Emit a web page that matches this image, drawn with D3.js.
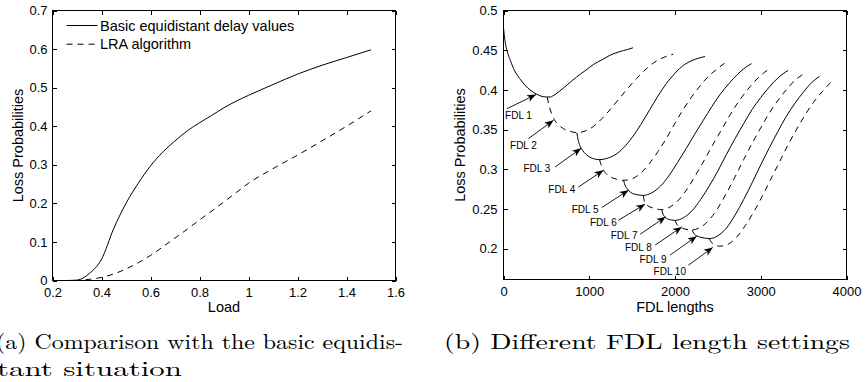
<!DOCTYPE html>
<html>
<head>
<meta charset="utf-8">
<script src="https://cdn.jsdelivr.net/npm/d3@7"></script>
<style>
  body { margin: 0; background: #fff; }
  svg { display: block; }
  .axis text { font-family: "Liberation Sans", Arial, Helvetica, sans-serif; font-size: 13px; fill: #000; }
  .axis line { stroke: #000; }
  .axis path { display: none; }
  .label { font-family: "Liberation Sans", Arial, Helvetica, sans-serif; font-size: 14.5px; fill: #000; }
  .fdl-label { font-family: "Liberation Sans", Arial, Helvetica, sans-serif; font-size: 10px; fill: #000; }
  .caption { font-family: "Latin Modern Roman", "Liberation Serif", "Times New Roman", serif; font-size: 21px; fill: #000; }
</style>
</head>
<body>
<svg id="chart" width="865" height="382"></svg>
<script>
// ---- (a) loss probability vs load
const loadX = [0.2, 0.25, 0.3, 0.35, 0.4, 0.45, 0.5, 0.55, 0.6, 0.65, 0.7, 0.75, 0.8, 0.85, 0.9, 0.95, 1.0, 1.1, 1.2, 1.3, 1.4, 1.5];
const basicLoss = [0, 0, 0.001, 0.018, 0.055, 0.135, 0.2, 0.252, 0.297, 0.333, 0.362, 0.388, 0.409, 0.428, 0.448, 0.465, 0.48, 0.508, 0.535, 0.558, 0.578, 0.598];
const lraLoss = [0, 0, 0, 0.003, 0.008, 0.017, 0.03, 0.046, 0.065, 0.087, 0.11, 0.133, 0.157, 0.18, 0.204, 0.228, 0.252, 0.29, 0.325, 0.362, 0.4, 0.44];
const loadTicks = [0.2, 0.4, 0.6, 0.8, 1.0, 1.2, 1.4, 1.6];
const lossTicksA = [0, 0.1, 0.2, 0.3, 0.4, 0.5, 0.6, 0.7];
const legendNames = ['Basic equidistant delay values', 'LRA algorithm'];

// ---- (b) loss probability vs FDL length, one curve per FDL
const fdl1 = [[0, 0.478], [20, 0.46], [45, 0.448], [80, 0.437], [130, 0.424], [190, 0.414], [250, 0.406], [320, 0.399], [380, 0.395], [440, 0.392], [500, 0.391], [550, 0.391], [570, 0.392], [650, 0.398], [750, 0.407], [850, 0.416], [950, 0.424], [1050, 0.432], [1150, 0.438], [1250, 0.444], [1350, 0.448], [1450, 0.451], [1510, 0.453]];
const fdl2 = [[510, 0.391], [530, 0.381], [555, 0.372], [590, 0.363], [640, 0.356], [700, 0.351], [770, 0.348], [855, 0.346], [950, 0.348], [1050, 0.354], [1150, 0.364], [1250, 0.376], [1350, 0.389], [1450, 0.402], [1550, 0.414], [1650, 0.425], [1750, 0.434], [1850, 0.44], [1980, 0.445]];
const fdl3 = [[855, 0.346], [870, 0.337], [890, 0.33], [920, 0.324], [960, 0.319], [1010, 0.315], [1060, 0.313], [1120, 0.312], [1200, 0.3135], [1300, 0.318], [1400, 0.327], [1500, 0.34], [1600, 0.356], [1700, 0.374], [1800, 0.392], [1900, 0.408], [2000, 0.421], [2100, 0.431], [2200, 0.437], [2350, 0.442]];
const fdl4 = [[1120, 0.312], [1140, 0.305], [1165, 0.299], [1200, 0.294], [1250, 0.29], [1320, 0.2875], [1400, 0.286], [1500, 0.288], [1600, 0.295], [1700, 0.307], [1800, 0.322], [1900, 0.339], [2000, 0.358], [2100, 0.376], [2200, 0.392], [2300, 0.406], [2400, 0.418], [2500, 0.427], [2583, 0.434]];
const fdl5 = [[1400, 0.286], [1420, 0.279], [1445, 0.275], [1480, 0.271], [1530, 0.2685], [1580, 0.2675], [1630, 0.267], [1730, 0.2703], [1830, 0.2786], [1930, 0.2919], [2030, 0.3085], [2130, 0.3259], [2230, 0.3442], [2330, 0.3616], [2430, 0.379], [2530, 0.3948], [2630, 0.4081], [2730, 0.4197], [2830, 0.4289], [2893, 0.433]];
const fdl6 = [[1630, 0.267], [1645, 0.259], [1670, 0.255], [1720, 0.252], [1780, 0.25], [1845, 0.249], [1945, 0.2526], [2045, 0.2614], [2145, 0.2756], [2245, 0.2934], [2345, 0.312], [2445, 0.3316], [2545, 0.3502], [2645, 0.3689], [2745, 0.3858], [2845, 0.4], [2945, 0.4124], [3045, 0.4222], [3107, 0.4266]];
const fdl7 = [[1845, 0.249], [1860, 0.2435], [1885, 0.2395], [1920, 0.237], [1960, 0.236], [2000, 0.2355], [2100, 0.2389], [2200, 0.2478], [2300, 0.262], [2400, 0.279], [2500, 0.2978], [2600, 0.3186], [2700, 0.3385], [2800, 0.3573], [2900, 0.3753], [3000, 0.3904], [3100, 0.4036], [3200, 0.415], [3318, 0.4244]];
const fdl8 = [[2000, 0.2355], [2020, 0.231], [2050, 0.2275], [2090, 0.2255], [2140, 0.224], [2200, 0.2235], [2300, 0.227], [2400, 0.2363], [2500, 0.251], [2600, 0.2697], [2700, 0.2903], [2800, 0.3119], [2900, 0.3326], [3000, 0.3522], [3100, 0.3709], [3200, 0.3866], [3300, 0.4004], [3400, 0.4121], [3500, 0.42]];
const fdl9 = [[2200, 0.2235], [2220, 0.219], [2250, 0.2163], [2290, 0.2145], [2340, 0.2133], [2400, 0.2125], [2500, 0.2162], [2600, 0.2258], [2700, 0.2422], [2800, 0.2616], [2900, 0.283], [3000, 0.3055], [3100, 0.327], [3200, 0.3475], [3300, 0.3669], [3400, 0.3833], [3500, 0.3976], [3600, 0.4098], [3686, 0.417]];
const fdl10 = [[2400, 0.2125], [2420, 0.2085], [2450, 0.2055], [2485, 0.2037], [2520, 0.203], [2620, 0.2055], [2720, 0.2145], [2820, 0.229], [2920, 0.2465], [3020, 0.2665], [3120, 0.288], [3220, 0.3095], [3320, 0.331], [3420, 0.3505], [3520, 0.369], [3620, 0.385], [3720, 0.398], [3856, 0.414]];
const fdlCurves = [fdl1, fdl2, fdl3, fdl4, fdl5, fdl6, fdl7, fdl8, fdl9, fdl10];
const fdlNames = ['FDL 1', 'FDL 2', 'FDL 3', 'FDL 4', 'FDL 5', 'FDL 6', 'FDL 7', 'FDL 8', 'FDL 9', 'FDL 10'];
// arrow annotations, in data units
const arrowTipX = [379, 583, 905, 1165, 1457, 1651, 1892, 2079, 2253, 2440];
const arrowTipY = [0.394, 0.3616, 0.3263, 0.2986, 0.2735, 0.2559, 0.24, 0.2273, 0.2156, 0.2014];
const arrowTailX = [40, 291, 602, 874, 1147, 1340, 1593, 1768, 1942, 2156];
const arrowTailY = [0.3763, 0.3385, 0.3028, 0.2776, 0.2517, 0.2357, 0.218, 0.2043, 0.1917, 0.179];
const labelX = [175, 233, 389, 680, 952, 1165, 1406, 1573, 1744, 1939];
const labelY = [0.3672, 0.33, 0.3008, 0.2743, 0.2492, 0.2323, 0.2168, 0.2009, 0.1863, 0.1707];
const fdlTicks = [0, 1000, 2000, 3000, 4000];
const lossTicksB = [0.2, 0.25, 0.3, 0.35, 0.4, 0.45, 0.5];

const captionA = ['(a) Comparison with the basic equidis-', 'tant situation'];
const captionB = '(b) Different FDL length settings';

const TICK = 4;
const DASH = '6,5';

const svg = d3.select('#chart');
svg.append('rect').attr('width', 865).attr('height', 382).attr('fill', '#fff');

const numFmt = (d) => String(+(+d).toFixed(2));

function drawFrame(g, x, y, xTicks, yTicks, padY) {
  const [x0, x1] = x.range();
  const [y0, y1] = y.range();

  g.append('g').attr('class', 'axis')
    .attr('transform', `translate(0,${y0})`)
    .call(d3.axisBottom(x).tickValues(xTicks).tickSizeInner(-TICK).tickSizeOuter(0).tickPadding(7).tickFormat(numFmt));
  g.append('g').attr('class', 'axis')
    .attr('transform', `translate(0,${y1})`)
    .call(d3.axisTop(x).tickValues(xTicks).tickSizeInner(-TICK).tickSizeOuter(0).tickFormat(''));
  g.append('g').attr('class', 'axis')
    .attr('transform', `translate(${x0},0)`)
    .call(d3.axisLeft(y).tickValues(yTicks).tickSizeInner(-TICK).tickSizeOuter(0).tickPadding(padY).tickFormat(numFmt));
  g.append('g').attr('class', 'axis')
    .attr('transform', `translate(${x1},0)`)
    .call(d3.axisRight(y).tickValues(yTicks).tickSizeInner(-TICK).tickSizeOuter(0).tickFormat(''));

  g.selectAll('.axis line').attr('shape-rendering', 'crispEdges');

  g.append('rect')
    .attr('x', x0).attr('y', y1)
    .attr('width', x1 - x0).attr('height', y0 - y1)
    .attr('fill', 'none')
    .attr('stroke', '#000')
    .attr('stroke-width', 1)
    .attr('shape-rendering', 'crispEdges');
}

function addAxisLabels(g, x, y, xText, yText, yLabelX) {
  const [x0, x1] = x.range();
  const [y0, y1] = y.range();
  g.append('text').attr('class', 'label')
    .attr('x', (x0 + x1) / 2).attr('y', 312)
    .attr('text-anchor', 'middle')
    .text(xText);
  g.append('text').attr('class', 'label')
    .attr('transform', `translate(${yLabelX},${(y0 + y1) / 2}) rotate(-90)`)
    .attr('text-anchor', 'middle')
    .text(yText);
}

// ---------- panel (a)
function drawPanelA() {
  const x = d3.scaleLinear().domain([0.2, 1.6]).range([52.5, 395.5]);
  const y = d3.scaleLinear().domain([0, 0.7]).range([280.5, 10.5]);
  const g = svg.append('g');

  const line = (vals) => d3.line()
    .x((d, i) => x(loadX[i]))
    .y((d) => y(d))
    .curve(d3.curveMonotoneX)(vals);

  g.append('path').attr('d', line(basicLoss))
    .attr('fill', 'none').attr('stroke', '#000').attr('stroke-width', 1);
  g.append('path').attr('d', line(lraLoss))
    .attr('fill', 'none').attr('stroke', '#000').attr('stroke-width', 1)
    .attr('stroke-dasharray', DASH);

  drawFrame(g, x, y, loadTicks, lossTicksA, 5);
  addAxisLabels(g, x, y, 'Load', 'Loss Probabilities', 23);

  // legend, no box
  legendNames.forEach((name, i) => {
    const ly = 25.5 + i * 18.7;
    g.append('line')
      .attr('x1', 66.5).attr('x2', 97.5)
      .attr('y1', ly).attr('y2', ly)
      .attr('stroke', '#000').attr('stroke-width', 1)
      .attr('stroke-dasharray', i === 1 ? DASH : null);
    g.append('text').attr('class', 'label')
      .attr('x', 100).attr('y', ly + 5)
      .text(name);
  });
}

// ---------- panel (b)
function drawPanelB() {
  const x = d3.scaleLinear().domain([0, 4000]).range([503.5, 846.5]);
  const y = d3.scaleLinear().domain([0.161, 0.5]).range([279.5, 10.5]);
  const g = svg.append('g');

  const line = d3.line()
    .x((d) => x(d[0]))
    .y((d) => y(d[1]))
    .curve(d3.curveMonotoneX);

  fdlCurves.forEach((curve, i) => {
    g.append('path').attr('d', line(curve))
      .attr('fill', 'none').attr('stroke', '#000').attr('stroke-width', 1)
      .attr('stroke-dasharray', i % 2 === 1 ? DASH : null);
  });

  drawFrame(g, x, y, fdlTicks, lossTicksB, 6);
  addAxisLabels(g, x, y, 'FDL lengths', 'Loss Probabilities', 465);

  svg.append('defs').append('marker')
    .attr('id', 'head')
    .attr('markerUnits', 'userSpaceOnUse')
    .attr('markerWidth', 12).attr('markerHeight', 10)
    .attr('viewBox', '-10 -5 12 10')
    .attr('refX', 0).attr('refY', 0)
    .attr('orient', 'auto')
    .append('path')
    .attr('d', 'M0,0 L-9,-3.6 L-6.5,0 L-9,3.6 Z')
    .attr('fill', '#000');

  fdlNames.forEach((name, i) => {
    g.append('line')
      .attr('x1', x(arrowTailX[i])).attr('y1', y(arrowTailY[i]))
      .attr('x2', x(arrowTipX[i])).attr('y2', y(arrowTipY[i]))
      .attr('stroke', '#000').attr('stroke-width', 0.9)
      .attr('marker-end', 'url(#head)');
    g.append('text').attr('class', 'fdl-label')
      .attr('x', x(labelX[i])).attr('y', y(labelY[i]))
      .attr('text-anchor', 'middle')
      .attr('dy', '0.35em')
      .text(name);
  });
}

function drawCaptions() {
  svg.append('text').attr('class', 'caption')
    .attr('x', -4).attr('y', 349)
    .attr('textLength', 407).attr('lengthAdjust', 'spacingAndGlyphs')
    .text(captionA[0]);
  svg.append('text').attr('class', 'caption')
    .attr('x', -3).attr('y', 376)
    .attr('textLength', 185).attr('lengthAdjust', 'spacingAndGlyphs')
    .text(captionA[1]);
  svg.append('text').attr('class', 'caption')
    .attr('x', 444).attr('y', 349)
    .attr('textLength', 406).attr('lengthAdjust', 'spacingAndGlyphs')
    .text(captionB);
}

drawPanelA();
drawPanelB();
drawCaptions();
</script>
</body>
</html>
